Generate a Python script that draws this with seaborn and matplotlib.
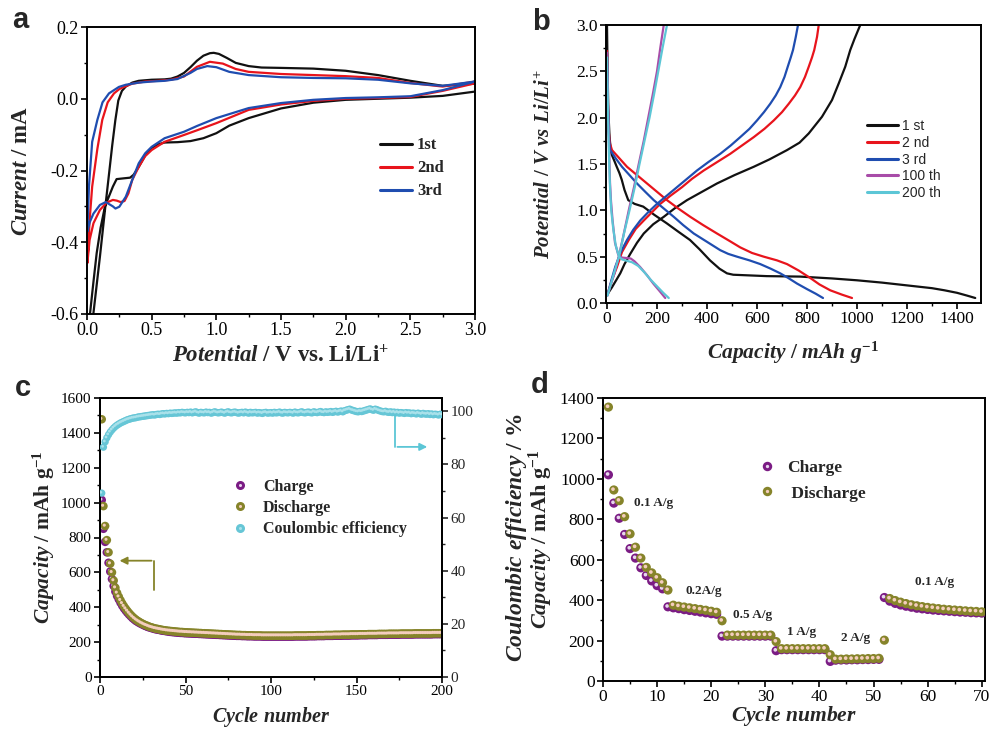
import matplotlib
matplotlib.use("Agg")
import matplotlib.pyplot as plt
import matplotlib.transforms as mtransforms
from matplotlib.lines import Line2D
from matplotlib.ticker import MultipleLocator
import seaborn as sns

# ---------------- (a) cyclic voltammograms ----------------
cv_labels = ["1st", "2nd", "3rd"]
cv1_v = [3.0, 2.75, 2.5, 2.25, 2.0, 1.75, 1.5, 1.25, 1.1, 1.0, 0.9, 0.8, 0.7, 0.6, 0.55, 0.5,
         0.45, 0.4, 0.36, 0.333, 0.28, 0.229, 0.2, 0.17, 0.139, 0.105, 0.075, 0.05, 0.023, 0.005,
         0.035, 0.049, 0.1, 0.142, 0.168, 0.195, 0.219, 0.242, 0.27, 0.3, 0.35, 0.4, 0.5, 0.6,
         0.65, 0.7, 0.75, 0.8, 0.85, 0.9, 0.95, 0.98, 1.02, 1.08, 1.15, 1.25, 1.35, 1.5, 1.75,
         2.0, 2.25, 2.5, 2.75, 3.0]
cv1_i = [0.020, 0.008, 0.003, 0.000, -0.003, -0.011, -0.027, -0.054, -0.075, -0.096, -0.110,
         -0.118, -0.121, -0.122, -0.127, -0.137, -0.158, -0.190, -0.212, -0.220, -0.222, -0.224,
         -0.245, -0.272, -0.300, -0.360, -0.430, -0.510, -0.600, -0.660,
         -0.660, -0.600, -0.440, -0.300, -0.217, -0.130, -0.060, -0.005, 0.022, 0.034, 0.045,
         0.050, 0.053, 0.054, 0.056, 0.062, 0.072, 0.088, 0.106, 0.120, 0.127, 0.128, 0.125,
         0.114, 0.100, 0.091, 0.087, 0.086, 0.084, 0.078, 0.066, 0.050, 0.036, 0.042]
cv2_v = [3.0, 2.75, 2.5, 2.25, 2.0, 1.75, 1.5, 1.25, 1.0, 0.85, 0.75, 0.6, 0.5, 0.45, 0.4, 0.35,
         0.32, 0.29, 0.26, 0.23, 0.2, 0.15, 0.1, 0.05, 0.02, 0.003,
         0.003, 0.02, 0.04, 0.08, 0.118, 0.16, 0.209, 0.25, 0.286, 0.35, 0.45, 0.55, 0.65, 0.75,
         0.85, 0.95, 1.05, 1.15, 1.25, 1.5, 1.75, 2.0, 2.25, 2.5, 2.75, 3.0]
cv2_i = [0.043, 0.022, 0.005, 0.002, 0.000, -0.006, -0.016, -0.031, -0.068, -0.088, -0.101,
         -0.120, -0.143, -0.160, -0.190, -0.226, -0.264, -0.285, -0.288, -0.284, -0.282, -0.290,
         -0.310, -0.347, -0.394, -0.458,
         -0.458, -0.340, -0.245, -0.140, -0.059, -0.010, 0.015, 0.027, 0.033, 0.042, 0.048,
         0.050, 0.053, 0.062, 0.089, 0.103, 0.098, 0.083, 0.075, 0.069, 0.066, 0.063, 0.058,
         0.044, 0.034, 0.048]
cv3_v = [3.0, 2.75, 2.5, 2.25, 2.0, 1.75, 1.5, 1.25, 1.0, 0.85, 0.75, 0.6, 0.5, 0.45, 0.4, 0.35,
         0.3, 0.25, 0.22, 0.2, 0.145, 0.1, 0.05, 0.02, 0.003,
         0.003, 0.015, 0.04, 0.08, 0.12, 0.17, 0.247, 0.3, 0.4, 0.5, 0.6, 0.7, 0.8, 0.85, 0.93,
         1.0, 1.1, 1.25, 1.5, 1.75, 2.0, 2.25, 2.5, 2.75, 3.0]
cv3_i = [0.048, 0.024, 0.007, 0.004, 0.002, -0.003, -0.012, -0.026, -0.054, -0.076, -0.092,
         -0.110, -0.134, -0.152, -0.180, -0.226, -0.273, -0.301, -0.306, -0.300, -0.288, -0.296,
         -0.320, -0.345, -0.370,
         -0.370, -0.245, -0.120, -0.059, -0.010, 0.015, 0.033, 0.039, 0.045, 0.048, 0.050,
         0.055, 0.072, 0.083, 0.091, 0.088, 0.075, 0.066, 0.060, 0.058, 0.057, 0.053, 0.043,
         0.036, 0.048]

# ---------------- (b) galvanostatic profiles ----------------
gcd_labels = ["1 st", "2 nd", "3 rd", "100 th", "200 th"]
dis1_q = [0, 2, 5, 10, 15, 19, 30, 39, 50, 59, 70, 85, 110, 145, 190, 239, 285, 332, 370, 412,
          450, 480, 505, 550, 639, 772, 900, 1000, 1100, 1200, 1300, 1350, 1400, 1440, 1473]
dis1_v = [3.0, 2.6, 2.1, 1.8, 1.65, 1.6, 1.53, 1.47, 1.4, 1.33, 1.22, 1.11, 1.07, 1.04, 0.95,
          0.86, 0.77, 0.68, 0.58, 0.46, 0.37, 0.32, 0.305, 0.3, 0.29, 0.285, 0.265, 0.245, 0.22,
          0.19, 0.16, 0.137, 0.11, 0.08, 0.054]
chg1_q = [3, 20, 53, 70, 93, 120, 147, 185, 227, 270, 320, 380, 440, 510, 587, 650, 720, 770,
          807, 860, 900, 927, 953, 973, 990, 1013]
chg1_v = [0.1, 0.17, 0.32, 0.42, 0.53, 0.65, 0.75, 0.85, 0.93, 1.02, 1.11, 1.2, 1.29, 1.38, 1.47,
          1.55, 1.65, 1.73, 1.83, 2.01, 2.19, 2.37, 2.55, 2.73, 2.85, 3.0]
dis2_q = [0, 3, 7, 12, 20, 50, 80, 120, 160, 200, 240, 285, 333, 385, 440, 490, 533, 580, 627,
          680, 720, 767, 813, 850, 893, 940, 980]
dis2_v = [2.72, 2.2, 1.85, 1.72, 1.65, 1.56, 1.47, 1.38, 1.29, 1.2, 1.11, 1.02, 0.93, 0.84, 0.75,
          0.67, 0.6, 0.54, 0.5, 0.46, 0.42, 0.35, 0.27, 0.2, 0.137, 0.09, 0.054]
chg2_q = [3, 20, 40, 60, 87, 115, 147, 180, 213, 255, 300, 340, 387, 440, 493, 540, 587, 630,
          667, 700, 727, 752, 773, 792, 807, 820, 829, 840, 847]
chg2_v = [0.1, 0.25, 0.39, 0.55, 0.68, 0.8, 0.89, 0.98, 1.07, 1.16, 1.25, 1.34, 1.43, 1.52, 1.61,
          1.7, 1.79, 1.88, 1.97, 2.06, 2.15, 2.24, 2.33, 2.44, 2.55, 2.65, 2.73, 2.87, 3.0]
dis3_q = [0, 3, 7, 10, 13, 35, 60, 90, 120, 153, 187, 227, 267, 305, 347, 400, 453, 485, 520,
          570, 613, 655, 693, 725, 760, 800, 835, 864]
dis3_v = [2.7, 2.2, 1.85, 1.72, 1.65, 1.56, 1.47, 1.38, 1.29, 1.2, 1.11, 1.02, 0.93, 0.84, 0.75,
          0.66, 0.57, 0.53, 0.5, 0.46, 0.42, 0.37, 0.32, 0.27, 0.21, 0.15, 0.1, 0.054]
chg3_q = [3, 18, 33, 55, 80, 105, 133, 165, 200, 240, 280, 320, 360, 405, 453, 495, 533, 570,
          600, 628, 653, 675, 693, 710, 723, 735, 744, 755, 764]
chg3_v = [0.1, 0.25, 0.39, 0.55, 0.68, 0.79, 0.89, 0.98, 1.07, 1.16, 1.25, 1.34, 1.43, 1.52, 1.61,
          1.7, 1.79, 1.88, 1.97, 2.06, 2.15, 2.24, 2.33, 2.44, 2.55, 2.65, 2.73, 2.87, 3.0]
dis100_q = [0, 3, 6, 9, 12, 16, 22, 32, 45, 60, 80, 95, 110, 132, 160, 185, 210, 233]
dis100_v = [2.7, 2.3, 1.9, 1.6, 1.3, 1.1, 0.9, 0.65, 0.52, 0.49, 0.485, 0.48, 0.45, 0.39, 0.3,
            0.21, 0.13, 0.054]
chg100_q = [2, 15, 30, 47, 65, 87, 108, 127, 147, 165, 183, 200, 213, 227]
chg100_v = [0.08, 0.2, 0.32, 0.5, 0.72, 1.0, 1.25, 1.5, 1.75, 2.0, 2.25, 2.5, 2.75, 3.0]
dis200_q = [0, 3, 6, 9, 12, 17, 25, 35, 48, 60, 80, 100, 125, 150, 175, 200, 225, 247]
dis200_v = [2.65, 2.2, 1.8, 1.5, 1.25, 1.0, 0.8, 0.62, 0.5, 0.47, 0.455, 0.44, 0.4, 0.33, 0.25,
            0.18, 0.11, 0.054]
chg200_q = [2, 15, 30, 48, 68, 90, 111, 130, 150, 170, 188, 205, 222, 240]
chg200_v = [0.08, 0.2, 0.34, 0.5, 0.75, 1.0, 1.25, 1.5, 1.75, 2.0, 2.25, 2.5, 2.75, 3.0]

# ---------------- (c) long-term cycling ----------------
cyc_c = list(range(1, 201))
dis_c = [1478, 980, 866, 785, 715, 650, 600, 553, 512, 482,
         460, 440, 422, 406, 392, 379, 367, 356, 346, 337,
         329, 322, 316, 310, 305, 300, 296, 292, 288, 285,
         282, 279, 277, 275, 273, 271, 269, 268, 266, 265,
         264, 263, 262, 261, 260, 259, 258, 258, 257, 256,
         256, 255, 255, 254, 254, 253, 253, 252, 252, 251,
         251, 250, 250, 249, 249, 248, 248, 247, 247, 246,
         246, 245, 245, 244, 244, 243, 243, 242, 242, 241,
         241, 241, 240, 240, 240, 239, 239, 239, 239, 238,
         238, 238, 238, 238, 237, 237, 237, 237, 237, 237,
         237, 237, 237, 237, 237, 237, 237, 237, 237, 237,
         237, 237, 237, 238, 238, 238, 238, 238, 238, 238,
         238, 239, 239, 239, 239, 239, 240, 240, 240, 240,
         240, 241, 241, 241, 241, 241, 242, 242, 242, 242,
         242, 243, 243, 243, 243, 243, 244, 244, 244, 244,
         244, 245, 245, 245, 245, 245, 246, 246, 246, 246,
         246, 246, 247, 247, 247, 247, 247, 247, 248, 248,
         248, 248, 248, 248, 248, 249, 249, 249, 249, 249,
         249, 249, 249, 250, 250, 250, 250, 250, 250, 250,
         250, 250, 250, 250, 251, 251, 251, 251, 251, 251]
chg_c = [1015, 850, 775, 715, 655, 605, 562, 522, 490, 465,
         445, 426, 409, 394, 381, 369, 358, 348, 338, 330,
         322, 316, 310, 305, 300, 295, 291, 287, 284, 281,
         278, 275, 273, 271, 269, 267, 265, 264, 262, 261,
         259, 258, 257, 256, 255, 254, 253, 253, 252, 251,
         251, 250, 250, 249, 249, 248, 248, 247, 247, 246,
         246, 245, 245, 244, 244, 243, 243, 242, 242, 241,
         241, 240, 240, 239, 239, 238, 238, 237, 237, 236,
         236, 236, 235, 235, 235, 234, 234, 234, 234, 233,
         233, 233, 233, 233, 232, 232, 232, 232, 232, 232,
         232, 232, 232, 232, 232, 232, 232, 232, 232, 232,
         232, 232, 232, 233, 233, 233, 233, 233, 233, 233,
         233, 234, 234, 234, 234, 234, 235, 235, 235, 235,
         235, 236, 236, 236, 236, 236, 237, 237, 237, 237,
         237, 238, 238, 238, 238, 238, 239, 239, 239, 239,
         239, 240, 240, 240, 240, 240, 241, 241, 241, 241,
         241, 241, 242, 242, 242, 242, 242, 242, 243, 243,
         243, 243, 243, 243, 243, 244, 244, 244, 244, 244,
         244, 244, 244, 245, 245, 245, 245, 245, 245, 245,
         245, 245, 245, 245, 246, 246, 246, 246, 246, 246]
ce_c = [69.2, 86.5, 88.5, 90.0, 91.2, 92.2, 93.0, 93.7, 94.3, 94.8,
        95.2, 95.6, 95.9, 96.2, 96.5, 96.8, 97.0, 97.2, 97.4, 97.5,
        97.6, 97.8, 97.9, 98.0, 98.1, 98.2, 98.3, 98.4, 98.5, 98.6,
        98.7, 98.6, 98.8, 98.9, 98.8, 99.0, 99.1, 99.0, 99.2, 99.1,
        99.3, 99.2, 99.3, 99.4, 99.3, 99.5, 99.4, 99.6, 99.5, 99.4,
        99.6, 99.5, 99.7, 99.4, 99.6, 99.8, 99.5, 99.3, 99.6, 99.5,
        99.4, 99.7, 99.5, 99.6, 99.3, 99.5, 99.8, 99.6, 99.4, 99.5,
        99.7, 99.5, 99.3, 99.6, 99.8, 99.5, 99.4, 99.6, 99.7, 99.5,
        99.3, 99.5, 99.6, 99.4, 99.7, 99.5, 99.3, 99.6, 99.4, 99.5,
        99.6, 99.3, 99.5, 99.4, 99.2, 99.5, 99.6, 99.3, 99.4, 99.5,
        99.3, 99.6, 99.4, 99.5, 99.7, 99.4, 99.3, 99.6, 99.5, 99.4,
        99.6, 99.5, 99.3, 99.7, 99.5, 99.4, 99.6, 99.8, 99.5, 99.4,
        99.6, 99.7, 99.5, 99.4, 99.8, 99.6, 99.5, 99.7, 99.9, 99.6,
        99.5, 99.8, 99.6, 99.7, 99.9, 99.6, 99.8, 100.0, 99.7, 99.9,
        100.1, 99.8, 100.2, 100.4, 100.6, 100.8, 100.5, 100.3, 100.1, 99.9,
        99.8, 100.0, 99.9, 100.1, 100.3, 100.5, 100.7, 100.9, 100.6, 100.4,
        100.8, 100.6, 100.3, 100.1, 99.9, 99.8, 100.0, 99.7, 99.6, 99.8,
        99.5, 99.7, 99.4, 99.6, 99.3, 99.5, 99.4, 99.2, 99.5, 99.3,
        99.4, 99.1, 99.3, 99.2, 99.0, 99.3, 99.1, 98.9, 99.2, 99.0,
        98.9, 99.1, 98.8, 99.0, 98.7, 98.9, 98.8, 98.6, 98.9, 98.7]

# ---------------- (d) rate capability ----------------
cyc_d = list(range(1, 71))
chg_d = [1020, 880, 805, 725, 655, 608, 560, 522, 495, 472, 456,
         367, 362, 358, 353, 349, 345, 341, 337, 333, 330,
         222, 222, 222, 222, 222, 222, 222, 222, 222, 222,
         150, 155, 155, 155, 155, 155, 155, 155, 155, 155,
         97, 103, 104, 104, 105, 105, 106, 106, 107, 107,
         413, 395, 384, 376, 370, 365, 360, 357, 354, 351, 349, 347, 345, 343, 341, 340, 338,
         337, 336]
dis_d = [1355, 945, 892, 813, 728, 662, 608, 562, 535, 511, 486,
         450, 375, 370, 366, 362, 358, 354, 350, 345, 340,
         298, 227, 227, 227, 227, 227, 227, 227, 227, 227,
         195, 160, 160, 160, 160, 160, 160, 160, 160, 160,
         130, 108, 108, 109, 109, 110, 110, 111, 111, 112,
         202, 408, 398, 390, 383, 377, 372, 368, 364, 361, 358, 355, 353, 351, 349, 347, 345,
         344, 342]
rate_labels = ["0.1 A/g", "0.2A/g", "0.5 A/g", "1 A/g", "2 A/g", "0.1 A/g"]
rate_x = [9.3, 18.7, 27.7, 36.7, 46.6, 61.2]
rate_y = [881, 445, 326, 241, 211, 489]

# ---------------- style ----------------
sns.set_theme(style="ticks")
plt.rcParams.update({
    "font.family": ["Liberation Serif", "DejaVu Serif"],
    "mathtext.fontset": "custom",
    "mathtext.rm": "Liberation Serif:bold",
    "mathtext.it": "Liberation Serif:italic:bold",
    "mathtext.bf": "Liberation Serif:bold",
    "axes.unicode_minus": False,
    "axes.linewidth": 1.4,
    "axes.edgecolor": "black",
})

BLACK, RED, BLUE = "#111111", "#E8141C", "#1F4DB0"
MAGENTA, CYAN = "#A84CA8", "#5CC6D6"
PURPLE, OLIVE = "#7B1C84", "#86842A"
PURPLE_HL, OLIVE_HL = "#E8D6EE", "#F4CDBD"
CE_COL, CE_HL = "#66C6D6", "#A9E1EA"

W, H = 998, 729
fig = plt.figure(figsize=(W / 100, H / 100), dpi=100)


def px_axes(left, top, right, bottom):
    return fig.add_axes([left / W, 1 - bottom / H, (right - left) / W, (bottom - top) / H])


ax_a = px_axes(87, 27, 475, 314)
ax_b = px_axes(606, 25, 981, 303)
ax_c = px_axes(100, 398, 442, 677)
ax_d = px_axes(603, 398, 985, 681)


def style_axis(ax, size):
    for s in ax.spines.values():
        s.set_linewidth(1.4)
        s.set_color("black")
    ax.tick_params(which="major", direction="out", length=4, width=1.2, labelsize=size,
                   top=False, right=False, colors="black", pad=2)
    ax.tick_params(which="minor", direction="out", length=2.5, width=1.0,
                   top=False, right=False, colors="black")
    ax.set_facecolor("white")


def line(ax, x, y, color, lw=1.6):
    sns.lineplot(x=x, y=y, ax=ax, color=color, lw=lw, sort=False, estimator=None,
                 legend=False)


# ---- (a) ----
for v, i, c in zip([cv1_v, cv2_v, cv3_v], [cv1_i, cv2_i, cv3_i], [BLACK, RED, BLUE]):
    line(ax_a, v, i, c, 1.6)
ax_a.set_xlim(0, 3.0)
ax_a.set_ylim(-0.6, 0.2)
ax_a.xaxis.set_major_locator(MultipleLocator(0.5))
ax_a.xaxis.set_minor_locator(MultipleLocator(0.25))
ax_a.yaxis.set_major_locator(MultipleLocator(0.2))
ax_a.yaxis.set_minor_locator(MultipleLocator(0.1))
ax_a.xaxis.set_major_formatter(lambda v, p: f"{v:.1f}")
ax_a.yaxis.set_major_formatter(lambda v, p: f"{v:.1f}")
style_axis(ax_a, 13)
ax_a.set_xlabel(r"$\mathit{Potential}$ / V vs. Li/Li$^{+}$", fontsize=16.5, fontweight="bold")
ax_a.set_ylabel(r"$\mathit{Current}$ / mA", fontsize=16.5, fontweight="bold")
ax_a.xaxis.set_label_coords(0.5, -0.108)
ax_a.yaxis.set_label_coords(-0.142, 0.5)
ax_a.legend([Line2D([], [], color=c, lw=2.2) for c in [BLACK, RED, BLUE]], cv_labels,
            loc="upper left", bbox_to_anchor=(0.755, 0.615), frameon=False,
            borderaxespad=0, borderpad=0, handlelength=1.92, handletextpad=0.3,
            labelspacing=0.42,
            prop=dict(family="Liberation Serif", weight="bold", size=12))

# ---- (b) ----
b_colors = [BLACK, RED, BLUE, MAGENTA, CYAN]
b_dis = [(dis1_q, dis1_v), (dis2_q, dis2_v), (dis3_q, dis3_v), (dis100_q, dis100_v),
         (dis200_q, dis200_v)]
b_chg = [(chg1_q, chg1_v), (chg2_q, chg2_v), (chg3_q, chg3_v), (chg100_q, chg100_v),
         (chg200_q, chg200_v)]
for (dq, dv), (cq, cv), c in zip(b_dis, b_chg, b_colors):
    line(ax_b, dq, dv, c, 1.6)
    line(ax_b, cq, cv, c, 1.6)
ax_b.set_xlim(-4, 1496)
ax_b.set_ylim(0, 3.0)
ax_b.xaxis.set_major_locator(MultipleLocator(200))
ax_b.xaxis.set_minor_locator(MultipleLocator(100))
ax_b.yaxis.set_major_locator(MultipleLocator(0.5))
ax_b.yaxis.set_minor_locator(MultipleLocator(0.25))
ax_b.yaxis.set_major_formatter(lambda v, p: f"{v:.1f}")
style_axis(ax_b, 12.5)
ax_b.set_xlabel(r"$\mathit{Capacity\ /\ mAh\ g^{-1}}$", fontsize=15.5)
ax_b.set_ylabel(r"$\mathit{Potential\ /\ V\ vs\ Li/Li^{+}}$", fontsize=15)
ax_b.xaxis.set_label_coords(0.5, -0.133)
ax_b.yaxis.set_label_coords(-0.136, 0.5)
ax_b.legend([Line2D([], [], color=c, lw=2.2) for c in b_colors], gcd_labels,
            loc="upper left", bbox_to_anchor=(0.696, 0.662), frameon=False,
            borderaxespad=0, borderpad=0, handlelength=2.23, handletextpad=0.29,
            labelspacing=0.2, prop=dict(family="Liberation Sans", size=10))

# ---- (c) ----
shift = mtransforms.ScaledTranslation(-0.6 / 72, 0.6 / 72, fig.dpi_scale_trans)


def balls(ax, x, y, base, hl, s, s_hl, z):
    sns.scatterplot(x=x, y=y, ax=ax, color=base, s=s, linewidth=0, edgecolor="none",
                    zorder=z, legend=False)
    sns.scatterplot(x=x, y=y, ax=ax, color=hl, s=s_hl, linewidth=0, edgecolor="none",
                    zorder=z + 0.1, legend=False, transform=ax.transData + shift)


balls(ax_c, cyc_c, chg_c, PURPLE, PURPLE_HL, 38, 5, 3)
balls(ax_c, cyc_c, dis_c, OLIVE, OLIVE_HL, 38, 5, 4)
ax_c.set_xlim(0, 200)
ax_c.set_ylim(0, 1600)
ax_c.xaxis.set_major_locator(MultipleLocator(50))
ax_c.xaxis.set_minor_locator(MultipleLocator(25))
ax_c.yaxis.set_major_locator(MultipleLocator(200))
ax_c.yaxis.set_minor_locator(MultipleLocator(100))
style_axis(ax_c, 11)
ax_c.set_xlabel(r"$\mathit{Cycle\ number}$", fontsize=14.5)
ax_c.set_ylabel(r"$\mathit{Capacity}$ / mAh g$^{-1}$", fontsize=15.5, fontweight="bold")
ax_c.xaxis.set_label_coords(0.5, -0.1)
ax_c.yaxis.set_label_coords(-0.126, 0.5)

ax_c2 = ax_c.twinx()
balls(ax_c2, cyc_c, ce_c, CE_COL, CE_HL, 28, 4, 5)
ax_c2.set_ylim(0, 105)
ax_c2.yaxis.set_major_locator(MultipleLocator(20))
ax_c2.yaxis.set_minor_locator(MultipleLocator(10))
for s in ax_c2.spines.values():
    s.set_linewidth(1.4)
ax_c2.tick_params(which="major", direction="out", length=4, width=1.2, labelsize=11,
                  right=True, left=False, pad=2)
ax_c2.tick_params(which="minor", direction="out", length=2.5, width=1.0, right=True,
                  left=False)
ax_c2.set_ylabel(r"$\mathit{Coulombic\ efficiency}$ / %", fontsize=17, fontweight="bold")
ax_c2.yaxis.set_label_coords(1.18, 0.5)

# guide arrows towards the matching axis
ax_c.plot([31.6, 31.6], [500, 667], color=OLIVE, lw=1.3, zorder=6)
ax_c.annotate("", xy=(9.8, 667), xytext=(31.8, 667),
              arrowprops=dict(arrowstyle="-|>", color=OLIVE, lw=1.3, mutation_scale=11),
              zorder=6)
ax_c2.plot([172.5, 172.5], [98.5, 86.6], color=CYAN, lw=1.3, zorder=6)
ax_c2.annotate("", xy=(193, 86.6), xytext=(172.3, 86.6),
               arrowprops=dict(arrowstyle="-|>", color=CYAN, lw=1.3, mutation_scale=11),
               zorder=6)

c_handles = [
    (Line2D([], [], ls="", marker="o", ms=6.5, color=PURPLE, mec="none"),
     Line2D([], [], ls="", marker="o", ms=2.2, color=PURPLE_HL, mec="none")),
    (Line2D([], [], ls="", marker="o", ms=6.5, color=OLIVE, mec="none"),
     Line2D([], [], ls="", marker="o", ms=2.2, color=OLIVE_HL, mec="none")),
    (Line2D([], [], ls="", marker="o", ms=6.5, color=CE_COL, mec="none"),
     Line2D([], [], ls="", marker="o", ms=2.2, color=CE_HL, mec="none")),
]
leg_c = ax_c2.legend(c_handles, ["Charge", "Discharge", "Coulombic efficiency"],
                     loc="upper left", bbox_to_anchor=(0.386, 0.71), frameon=False,
                     borderaxespad=0, borderpad=0, handlelength=1.0, handletextpad=0.94,
                     labelspacing=0.32,
                     prop=dict(family="Liberation Serif", weight="bold", size=11.5))
leg_c.set_zorder(10)

# ---- (d) ----
balls(ax_d, cyc_d, chg_d, PURPLE, PURPLE_HL, 44, 7, 3)
balls(ax_d, cyc_d, dis_d, OLIVE, OLIVE_HL, 44, 7, 4)
ax_d.set_xlim(0, 70.6)
ax_d.set_ylim(0, 1400)
ax_d.xaxis.set_major_locator(MultipleLocator(10))
ax_d.xaxis.set_minor_locator(MultipleLocator(5))
ax_d.yaxis.set_major_locator(MultipleLocator(200))
ax_d.yaxis.set_minor_locator(MultipleLocator(100))
style_axis(ax_d, 12.5)
ax_d.set_xlabel(r"$\mathit{Cycle\ number}$", fontsize=15.5)
ax_d.set_ylabel(r"$\mathit{Capacity}$ / mAh g$^{-1}$", fontsize=16, fontweight="bold")
ax_d.xaxis.set_label_coords(0.5, -0.082)
ax_d.yaxis.set_label_coords(-0.126, 0.5)
for t, x, y in zip(rate_labels, rate_x, rate_y):
    ax_d.text(x, y, t, ha="center", va="center", fontsize=9.5, fontweight="bold")
d_handles = [
    (Line2D([], [], ls="", marker="o", ms=6.8, color=PURPLE, mec="none"),
     Line2D([], [], ls="", marker="o", ms=2.4, color=PURPLE_HL, mec="none")),
    (Line2D([], [], ls="", marker="o", ms=6.8, color=OLIVE, mec="none"),
     Line2D([], [], ls="", marker="o", ms=2.4, color=OLIVE_HL, mec="none")),
]
ax_d.legend(d_handles, ["Charge", " Discharge"], loc="upper left",
            bbox_to_anchor=(0.407, 0.782), frameon=False, borderaxespad=0, borderpad=0,
            handlelength=1.0, handletextpad=0.65, labelspacing=0.55,
            prop=dict(family="Liberation Serif", weight="bold", size=12.5))

# panel letters
for letter, (x, y) in zip("abcd", [(20, 20), (541, 22), (23, 388), (540, 385)]):
    fig.text(x / W, 1 - y / H, letter, ha="center", va="center", fontsize=21,
             fontweight="bold", family="Liberation Sans")

fig.savefig("out.png", dpi=100, facecolor="white")
